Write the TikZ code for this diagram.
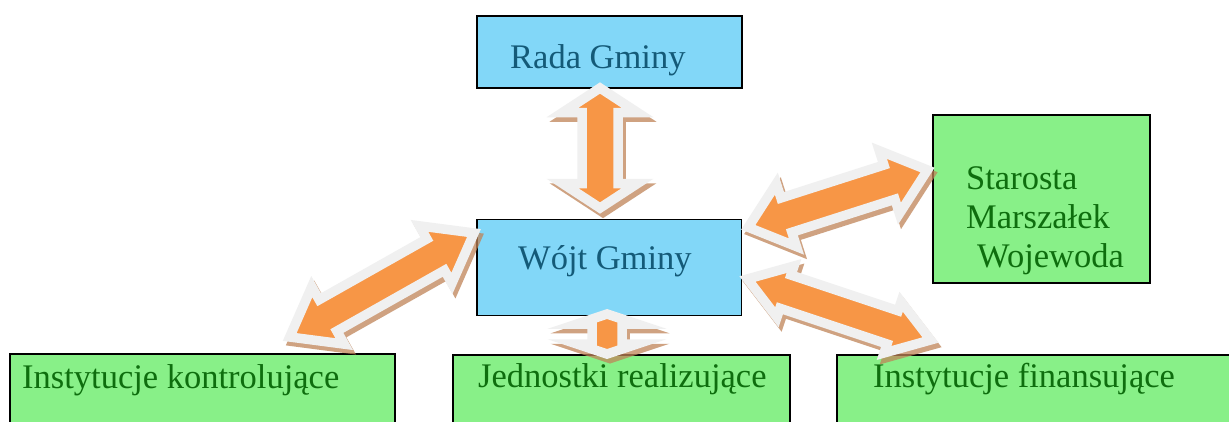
\documentclass[tikz,border=0pt]{standalone}
\usepackage{fontspec}
\setmainfont{Liberation Serif}
\usetikzlibrary{calc}
\definecolor{boxblue}{HTML}{82D7F8}
\definecolor{boxgreen}{HTML}{88F088}
\definecolor{bluetxt}{HTML}{145A78}
\definecolor{greentxt}{HTML}{0E6E0E}
\definecolor{arroworange}{HTML}{F79646}
\definecolor{arrowgray}{HTML}{F0F0F0}
\definecolor{shadetan}{HTML}{BF8458}
% #1 style, #2 tip A, #3 tip B, #4 half shaft width, #5 half head width, #6 head length
\newcommand\arrowshape[6]{%
  \path[#1] (#2) -- ($(#2)!#6!(#3)!#5!90:(#3)$) -- ($(#2)!#6!(#3)!#4!90:(#3)$)
    -- ($(#3)!#6!(#2)!#4!-90:(#2)$) -- ($(#3)!#6!(#2)!#5!-90:(#2)$)
    -- (#3) -- ($(#3)!#6!(#2)!#5!90:(#2)$) -- ($(#3)!#6!(#2)!#4!90:(#2)$)
    -- ($(#2)!#6!(#3)!#4!-90:(#3)$) -- ($(#2)!#6!(#3)!#5!-90:(#3)$) -- cycle;}
\newcommand\blockarrow[5]{%
  \begin{scope}[transform canvas={xshift=3pt,yshift=-4.5pt}]
    \begin{scope}[transparency group, opacity=0.75]
      \arrowshape{arrowshade}{#1}{#2}{#3}{#4}{#5}
    \end{scope}
  \end{scope}
  \arrowshape{arrowbody}{#1}{#2}{#3}{#4}{#5}}
\begin{document}
\begin{tikzpicture}[x=1pt, y=-1pt,
  boxbase/.style={draw=black, line width=1.5pt, inner sep=0pt},
  bluebox/.style={boxbase, fill=boxblue},
  greenbox/.style={boxbase, fill=boxgreen},
  bluelabel/.style={text=bluetxt, inner sep=0pt, anchor=base west, font=\fontsize{34.5}{39}\selectfont},
  greenlabel/.style={text=greentxt, inner sep=0pt, anchor=base west, font=\fontsize{34.5}{39}\selectfont},
  arrowbody/.style={fill=arroworange, draw=arrowgray, line width=9.5pt, line join=miter, miter limit=20},
  arrowshade/.style={fill=shadetan, draw=shadetan, line width=9.5pt, line join=miter, miter limit=20}]
\fill[white] (0,0) rectangle (1229,421);
\useasboundingbox (0,0) rectangle (1229,421);

% boxes
\node[bluebox, minimum width=265pt, minimum height=72pt] (rada) at (609.5,52) {};
\node[bluebox, minimum width=264.5pt, minimum height=96pt] (wojt) at (609.25,267.5) {};
\node[greenbox, minimum width=217pt, minimum height=168pt] (staro) at (1041.5,199) {};
\node[greenbox, minimum width=385pt, minimum height=86pt] (kontr) at (202.5,397) {};
\node[greenbox, minimum width=337pt, minimum height=85pt] (jedn) at (621.5,397.5) {};
\node[greenbox, minimum width=398pt, minimum height=85pt] (finan) at (1036,397.5) {};

% texts
\node[bluelabel] (radaT) at (510,68) {Rada Gminy};
\node[bluelabel] (wojtT) at (518,269) {Wójt Gminy};
\node[greenlabel] (staroT1) at (966,189) {Starosta};
\node[greenlabel] (staroT2) at (966,228) {Marszałek};
\node[greenlabel] (staroT3) at (977,267) {Wojewoda};
\node[greenlabel] (kontrT) at (22,388) {Instytucje kontrolujące};
\node[greenlabel] (jednT) at (478,387) {Jednostki realizujące};
\node[greenlabel] (finanT) at (873,387) {Instytucje finansujące};

% arrow tips
\coordinate (v1) at (600,88);
\coordinate (v2) at (600,208);
\coordinate (s1) at (607,314);
\coordinate (s2) at (607,354);
\coordinate (a1) at (474,233);
\coordinate (a2) at (289.7,337);
\coordinate (b1) at (927.5,170);
\coordinate (b2) at (748.3,227.3);
\coordinate (c1) at (747.5,279);
\coordinate (c2) at (930.5,340);

% block arrows
\blockarrow{v1}{v2}{18pt}{37.5pt}{24.5pt}
\blockarrow{s1}{s2}{15pt}{30pt}{10pt}
\blockarrow{a1}{a2}{18pt}{33pt}{44pt}
\blockarrow{b1}{b2}{18pt}{33pt}{40pt}
\blockarrow{c1}{c2}{17.5pt}{27pt}{40pt}
\end{tikzpicture}
\end{document}
